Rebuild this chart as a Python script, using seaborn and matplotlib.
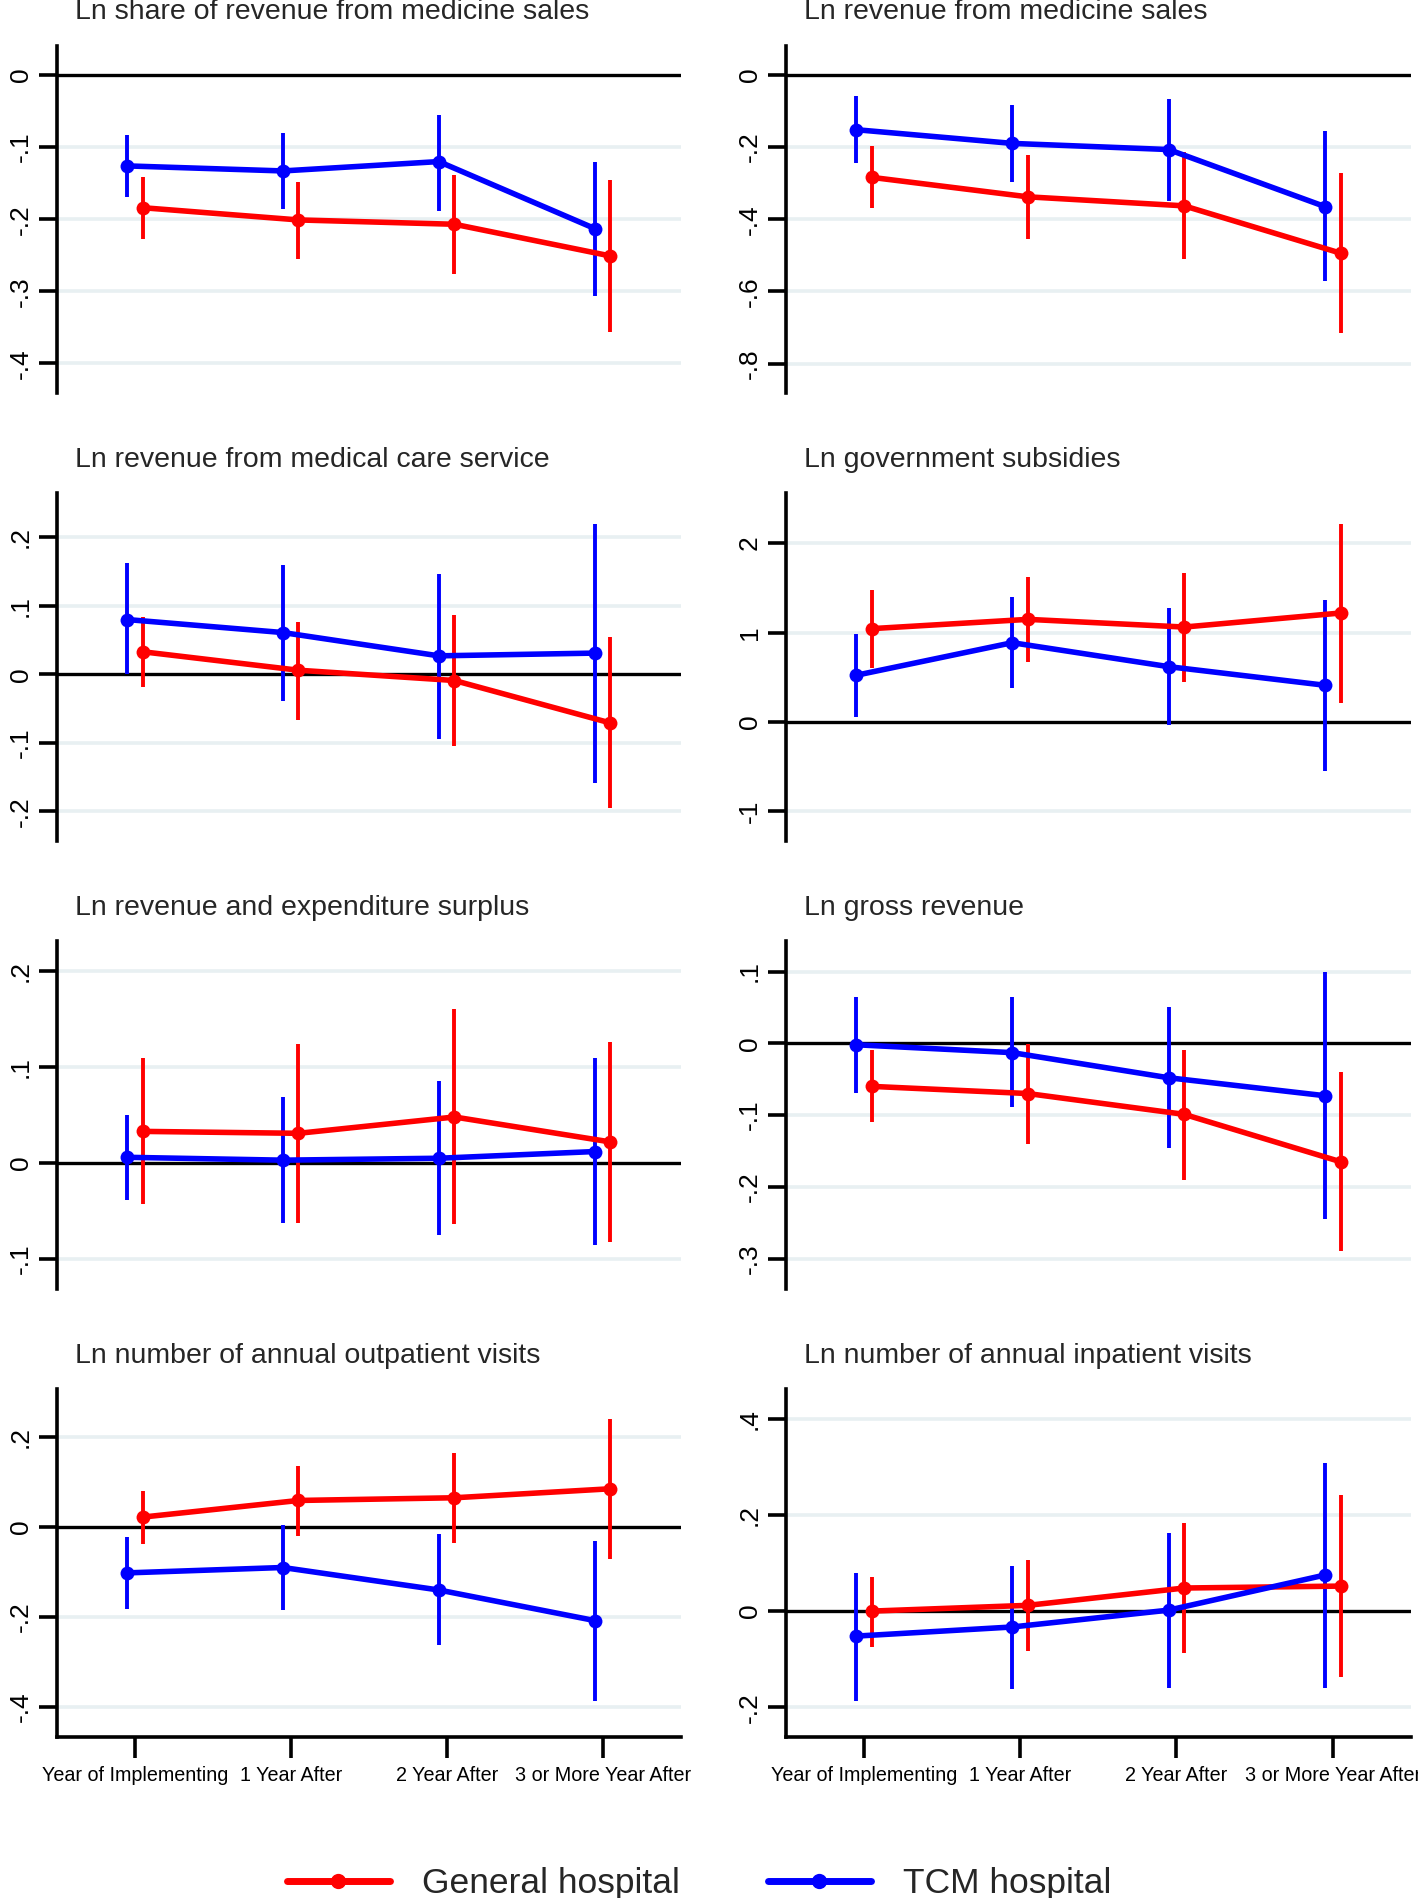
import pandas as pd
import matplotlib
matplotlib.use('Agg')
import matplotlib.pyplot as plt
from matplotlib.lines import Line2D
import seaborn as sns

# periodos (eixo x)
periods = ['Year of Implementing', '1 Year After', '2 Year After', '3 or More Year After']

titles = [
    'Ln share of revenue from medicine sales',
    'Ln revenue from medicine sales',
    'Ln revenue from medical care service',
    'Ln government subsidies',
    'Ln revenue and expenditure surplus',
    'Ln gross revenue',
    'Ln number of annual outpatient visits',
    'Ln number of annual inpatient visits',
]

# General hospital: coeficientes e IC
gen_coef = [
    [-0.184, -0.201, -0.207, -0.251],
    [-0.284, -0.338, -0.363, -0.494],
    [0.033, 0.006, -0.009, -0.071],
    [1.043, 1.147, 1.061, 1.218],
    [0.033, 0.031, 0.048, 0.022],
    [-0.060, -0.070, -0.099, -0.165],
    [0.022, 0.059, 0.065, 0.085],
    [0.000, 0.012, 0.048, 0.052],
]
gen_lo = [
    [-0.227, -0.255, -0.276, -0.356],
    [-0.369, -0.454, -0.511, -0.715],
    [-0.019, -0.067, -0.105, -0.195],
    [0.603, 0.674, 0.447, 0.209],
    [-0.043, -0.062, -0.064, -0.082],
    [-0.110, -0.140, -0.190, -0.290],
    [-0.037, -0.019, -0.035, -0.070],
    [-0.074, -0.083, -0.088, -0.137],
]
gen_hi = [
    [-0.141, -0.148, -0.138, -0.146],
    [-0.197, -0.222, -0.215, -0.272],
    [0.084, 0.076, 0.087, 0.054],
    [1.470, 1.620, 1.668, 2.216],
    [0.109, 0.124, 0.161, 0.126],
    [-0.009, -0.001, -0.010, -0.040],
    [0.080, 0.135, 0.165, 0.241],
    [0.071, 0.107, 0.183, 0.241],
]

# TCM hospital: coeficientes e IC
tcm_coef = [
    [-0.126, -0.133, -0.120, -0.213],
    [-0.152, -0.190, -0.207, -0.365],
    [0.080, 0.061, 0.027, 0.031],
    [0.521, 0.886, 0.618, 0.410],
    [0.006, 0.003, 0.005, 0.012],
    [-0.002, -0.013, -0.048, -0.073],
    [-0.102, -0.090, -0.140, -0.208],
    [-0.052, -0.033, 0.002, 0.075],
]
tcm_lo = [
    [-0.169, -0.186, -0.188, -0.306],
    [-0.244, -0.296, -0.349, -0.571],
    [0.000, -0.039, -0.095, -0.159],
    [0.060, 0.380, -0.034, -0.548],
    [-0.038, -0.063, -0.075, -0.085],
    [-0.069, -0.089, -0.146, -0.245],
    [-0.182, -0.184, -0.263, -0.387],
    [-0.187, -0.161, -0.160, -0.160],
]
tcm_hi = [
    [-0.083, -0.081, -0.055, -0.120],
    [-0.058, -0.085, -0.067, -0.157],
    [0.162, 0.160, 0.147, 0.219],
    [0.980, 1.400, 1.278, 1.363],
    [0.050, 0.069, 0.085, 0.109],
    [0.065, 0.064, 0.050, 0.099],
    [-0.022, 0.004, -0.016, -0.030],
    [0.080, 0.093, 0.162, 0.308],
]

# ticks e limites do eixo y de cada painel
yticks = [
    [0, -0.1, -0.2, -0.3, -0.4],
    [0, -0.2, -0.4, -0.6, -0.8],
    [-0.2, -0.1, 0, 0.1, 0.2],
    [-1, 0, 1, 2],
    [-0.1, 0, 0.1, 0.2],
    [-0.3, -0.2, -0.1, 0, 0.1],
    [-0.4, -0.2, 0, 0.2],
    [-0.2, 0, 0.2, 0.4],
]
ylims = [
    (-0.441, 0.041), (-0.881, 0.081), (-0.243, 0.264), (-1.33, 2.555),
    (-0.131, 0.231), (-0.342, 0.142), (-0.466, 0.306), (-0.261, 0.461),
]

groups = ['General hospital', 'TCM hospital']
cores = {'General hospital': '#FF0000', 'TCM hospital': '#0000FF'}
desloc = {'General hospital': 0.05, 'TCM hospital': -0.05}


def stata_fmt(v):
    s = f'{v:g}'
    return s.replace('0.', '.')


sns.set_style('white')
plt.rcParams['font.family'] = ['Liberation Sans', 'DejaVu Sans']

fig = plt.figure(figsize=(14.18, 18.98), dpi=100)

col_x = [0.040, 0.554]
col_w = [0.440, 0.441]
row_y = [0.793, 0.557, 0.321, 0.085]
row_h = 0.183

for i in range(8):
    r, c = divmod(i, 2)
    ax = fig.add_axes([col_x[c], row_y[r], col_w[c], row_h])

    linhas = []
    for g, coef, lo, hi in [('General hospital', gen_coef, gen_lo, gen_hi),
                             ('TCM hospital', tcm_coef, tcm_lo, tcm_hi)]:
        for k in range(4):
            linhas.append({'grupo': g, 'x': k + desloc[g], 'coef': coef[i][k],
                           'lo': lo[i][k], 'hi': hi[i][k]})
    df = pd.DataFrame(linhas)

    # grade e linha do zero
    for t in yticks[i]:
        if t != 0:
            ax.axhline(t, color='#E8F0F2', lw=2.6, zorder=0)
    ax.axhline(0, color='black', lw=2.4, zorder=1)

    # intervalos de confianca
    for g in groups:
        d = df[df['grupo'] == g]
        ax.vlines(d['x'], d['lo'], d['hi'], color=cores[g], lw=2.8, zorder=2)

    sns.lineplot(data=df, x='x', y='coef', hue='grupo', palette=cores,
                 hue_order=groups, marker='o', markersize=10, markeredgewidth=0,
                 linewidth=4, estimator=None, legend=False, ax=ax, zorder=3)

    ax.set_xlim(-0.5, 3.5)
    ax.set_ylim(*ylims[i])
    ax.set_yticks(yticks[i])
    ax.set_yticklabels([stata_fmt(t) for t in yticks[i]], rotation=90,
                       va='center', fontsize=19)
    ax.set_xlabel('')
    ax.set_ylabel('')

    for s in ['top', 'right']:
        ax.spines[s].set_visible(False)
    ax.spines['left'].set_linewidth(2.6)
    ax.spines['left'].set_color('black')
    ax.tick_params(axis='y', direction='out', length=13, width=2.6, pad=4,
                   left=True, colors='black')

    if r == 3:
        ax.set_xticks(range(4))
        ax.set_xticklabels(periods, fontsize=14.2)
        ax.spines['bottom'].set_linewidth(2.6)
        ax.spines['bottom'].set_color('black')
        ax.tick_params(axis='x', direction='out', length=15, width=2.6, pad=6,
                       bottom=True, colors='black')
    else:
        ax.set_xticks([])
        ax.spines['bottom'].set_visible(False)

    ax.annotate(titles[i], xy=(0, 1), xycoords='axes fraction',
                xytext=(13, 24), textcoords='offset points',
                ha='left', va='center', fontsize=20.5)

handles = [Line2D([0], [0], color=cores[g], lw=5, marker='o', markersize=11,
                  markeredgewidth=0) for g in groups]
fig.legend(handles, groups, loc='lower center', bbox_to_anchor=(0.493, -0.018),
           ncol=2, frameon=False, fontsize=25.5, handlelength=2.9,
           handletextpad=0.9, columnspacing=2.5)

fig.savefig('out.png', dpi=100)
